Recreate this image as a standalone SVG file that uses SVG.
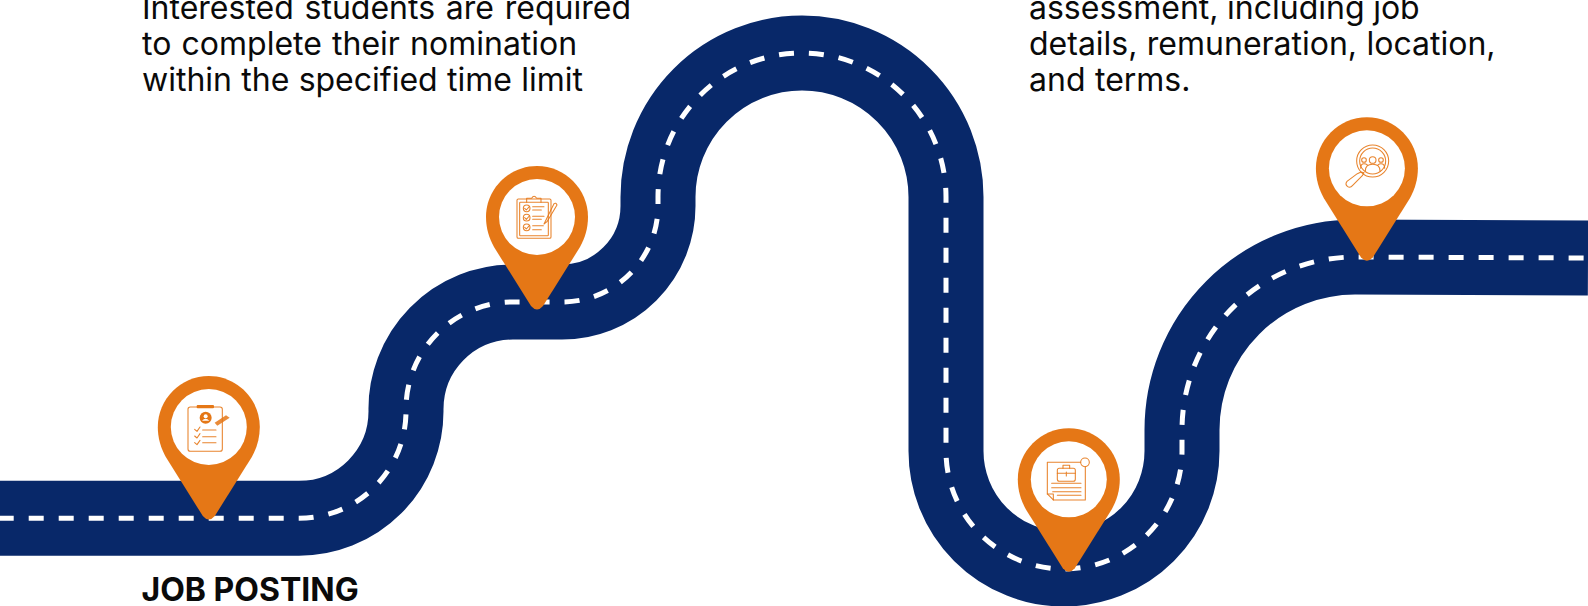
<svg xmlns="http://www.w3.org/2000/svg" width="1588" height="606" viewBox="0 0 1588 606">
<style>
.t{font-family:Inter,"Liberation Sans",sans-serif;font-size:32px;fill:#0a0a0a}
.b{font-family:Inter,"Liberation Sans",sans-serif;font-size:32px;font-weight:700;fill:#0a0a0a}
.ic{fill:none;stroke:#E57716;stroke-width:3.2;stroke-linecap:round;stroke-linejoin:round;opacity:.9}
.if{fill:#E57716}
.pin{fill:#E57716}
</style>
<defs>
<path id="pinshape" d="M0-51C28-51 51-28 51 0C51 11 48 21 43 30L6 89Q0 96-6 89L-43 30C-48 21-51 11-51 0C-51-28-28-51 0-51Z"/>
</defs>
<g id="connectors" fill="none">
<path id="road" d="M0 518.3H299A107 107 0 0 0 406 411A107 107 0 0 1 513 302H562A96 96 0 0 0 658 206V197A144 144 0 0 1 946 197V451A118 118 0 0 0 1182 451V430A173 173 0 0 1 1355 257L1588 258" stroke="#082869" stroke-width="75"/>
<path id="dashes" d="M0 518.3H299A107 107 0 0 0 406 411A107 107 0 0 1 513 302H562A96 96 0 0 0 658 206V197A144 144 0 0 1 946 197V451A118 118 0 0 0 1182 451V430A173 173 0 0 1 1355 257L1588 258" stroke="#fff" stroke-width="5" stroke-dasharray="15 15" stroke-dashoffset="1.3"/>
</g>
<g id="text-nomination"><text class="t" x="142" y="18.5" word-spacing="1.8">Interested students are required</text><text class="t" x="142" y="55" word-spacing="1.2">to complete their nomination</text><text class="t" x="142" y="91" word-spacing=".3">within the specified time limit</text></g>
<g id="text-assessment"><text class="t" x="1029" y="18.5" word-spacing="-.4">assessment, including job</text><text class="t" x="1029" y="55" word-spacing=".4">details, remuneration, location,</text><text class="t" x="1029" y="91" word-spacing=".5">and terms.</text></g>
<g id="text-job-posting"><text class="b" x="141.5" y="601">JOB POSTING</text></g>
<g id="pin1">
<use href="#pinshape" class="pin" x="208.8" y="427"/><circle cx="208.8" cy="427" r="38" fill="#fff"/>
<g transform="translate(140 360) scale(.3333)">
<rect class="ic" x="144" y="141" width="103" height="133" rx="7"/>
<rect class="if" x="170" y="135" width="52" height="10" rx="3"/>
<circle class="if" cx="197" cy="173" r="18"/><circle cx="197" cy="169" r="6" fill="#fff"/><path d="M186 182Q197 170 208 182Z" fill="#fff"/>
<path class="if" d="M224 188L258 166L269 173L232 197Z" opacity=".85"/>
<path class="ic" d="M164 208L171 214L180 201M164 228L171 234L180 221M164 248L171 254L180 241"/>
<path class="ic" d="M188 210H228M188 230H228M188 248H228"/>
</g></g>
<g id="pin2">
<use href="#pinshape" class="pin" x="537" y="217"/><circle cx="537" cy="217" r="38" fill="#fff"/>
<g transform="translate(470 155) scale(.3333)">
<rect class="ic" x="141" y="132" width="102" height="118" rx="4"/>
<rect class="ic" x="149" y="142" width="86" height="100" rx="2"/>
<path class="ic" d="M170 142V130H185Q192 118 200 130H213V142"/>
<circle class="ic" cx="170" cy="160" r="10"/><circle class="ic" cx="170" cy="188" r="10"/><circle class="ic" cx="170" cy="217" r="10"/>
<path class="ic" d="M164 160L169 165L178 155M164 188L169 193L178 183M164 217L169 222L178 212"/>
<path class="ic" d="M188 155H222M188 165H214M188 184H222M188 193H214M188 212H220M188 224H214"/>
<path class="ic" d="M222 207L252 146Q258 142 261 150L231 200Z"/>
</g></g>
<g id="pin3">
<use href="#pinshape" class="pin" x="1068.8" y="479.3"/><circle cx="1068.8" cy="479.3" r="38" fill="#fff"/>
<g transform="translate(1000 420) scale(.3333)">
<path class="ic" d="M242 127H142V222L160 240H256V140"/><path class="ic" d="M142 222H160V240"/>
<circle class="ic" cx="255" cy="127" r="13"/>
<rect class="ic" x="172" y="145" width="54" height="39" rx="6"/>
<path class="ic" d="M189 145V136H209V145M172 160H226M199 156V168"/>
<path class="ic" d="M155 190H243M155 203H243M158 215H243M172 226H243"/>
</g></g>
<g id="pin4">
<use href="#pinshape" class="pin" x="1366.9" y="168.3"/><circle cx="1366.9" cy="168.3" r="38" fill="#fff"/>
<g transform="translate(1300 105) scale(.3333)">
<circle class="ic" cx="218" cy="168" r="48"/><circle class="ic" cx="218" cy="168" r="39"/>
<circle class="ic" cx="218" cy="165" r="10"/><circle class="ic" cx="192" cy="165" r="7"/><circle class="ic" cx="243" cy="165" r="7"/>
<path class="ic" d="M196 198Q196 178 218 178Q240 178 240 198M182 190Q182 176 192 176Q198 176 202 180M254 190Q254 176 243 176Q238 176 234 180"/>
<path class="ic" d="M183 201L172 206L141 229Q134 238 143 245Q151 250 158 241L187 212L192 203Z"/>
</g></g>
</svg>
